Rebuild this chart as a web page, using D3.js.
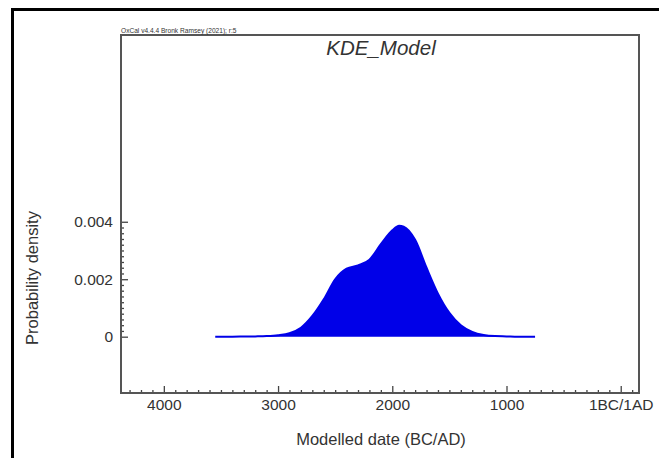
<!DOCTYPE html>
<html>
<head>
<meta charset="utf-8">
<script src="https://cdn.jsdelivr.net/npm/d3@7"></script>
<style>
  body { margin: 0; background: #fff; }
  text { font-family: "Liberation Sans", Arial, sans-serif; fill: #333; }
</style>
</head>
<body>
<div id="chart"></div>
<script>
// calendar years (negative = BC) and probability density
const years = [-3550, -3500, -3400, -3300, -3200, -3100, -3000, -2900, -2800, -2700,
    -2600, -2500, -2400, -2300, -2200, -2100, -2000, -1940, -1900, -1800, -1700,
    -1600, -1500, -1400, -1300, -1200, -1100, -1000, -900, -800, -750];
const density = [0, 0, 0, 0.000005, 0.00001, 0.00002, 0.00005, 0.00012, 0.00031, 0.00072,
    0.0013, 0.002, 0.00237, 0.00248, 0.00268, 0.00322, 0.0037, 0.00386, 0.00383, 0.00337, 0.0024,
    0.0015, 0.00083, 0.0004, 0.00017, 0.00006, 0.00002, 0.00001, 0, 0, 0];

const x_ticks = [-4000, -3000, -2000, -1000, 0];
const y_ticks = [0, 0.002, 0.004];

const chart_width = 659;
const chart_height = 458;
const frame = { left: 121, top: 35, right: 639, bottom: 393 };
const curve_color = '#0000e8';

const svg = d3.select('#chart')
    .append('svg')
    .attr('width', chart_width)
    .attr('height', chart_height);

// outer black border (cut off at the right and bottom)
svg.append('rect')
    .attr('x', 12.5)
    .attr('y', 9.5)
    .attr('width', 700)
    .attr('height', 500)
    .attr('fill', 'none')
    .attr('stroke', '#000')
    .attr('stroke-width', 3);

// scales
const x_scale = d3.scaleLinear()
    .domain([-4375, 160])
    .range([frame.left, frame.right]);

const y_scale = d3.scaleLinear()
    .domain([-0.00196, 0.0105])
    .range([frame.bottom, frame.top]);

const data = years.map((yr, i) => ({ year: yr, p: density[i] }));

// density curve
svg.append('path')
    .datum(data)
    .attr('d', d3.area()
        .x(d => x_scale(d.year))
        .y0(y_scale(0))
        .y1(d => y_scale(d.p))
        .curve(d3.curveMonotoneX))
    .attr('fill', curve_color);

svg.append('path')
    .datum(data)
    .attr('d', d3.line()
        .x(d => x_scale(d.year))
        .y(d => y_scale(d.p))
        .curve(d3.curveMonotoneX))
    .attr('fill', 'none')
    .attr('stroke', curve_color)
    .attr('stroke-width', 2);

// x axis, ticks pointing inward
const x_minor = d3.range(-4300, 200, 100).filter(v => v % 1000 !== 0);

svg.append('g')
    .attr('transform', `translate(0,${frame.bottom})`)
    .call(d3.axisBottom(x_scale).tickValues(x_minor).tickSize(-3).tickFormat(''))
    .call(g => g.select('.domain').remove());

svg.append('g')
    .attr('transform', `translate(0,${frame.bottom})`)
    .call(d3.axisBottom(x_scale)
        .tickValues(x_ticks)
        .tickSize(-7)
        .tickPadding(6)
        .tickFormat(d => d === 0 ? '1BC/1AD' : String(-d)))
    .call(g => g.select('.domain').remove())
    .call(g => g.selectAll('text').attr('font-size', 15.5).attr('font-family', null).attr('fill', '#333'));

// y axis, ticks pointing inward
const y_minor = d3.range(0, 0.00401, 0.0002).filter(v => Math.abs(v / 0.002 - Math.round(v / 0.002)) > 0.01);

svg.append('g')
    .attr('transform', `translate(${frame.left},0)`)
    .call(d3.axisLeft(y_scale).tickValues(y_minor).tickSize(-3).tickFormat(''))
    .call(g => g.select('.domain').remove());

svg.append('g')
    .attr('transform', `translate(${frame.left},0)`)
    .call(d3.axisLeft(y_scale)
        .tickValues(y_ticks)
        .tickSize(-7)
        .tickPadding(8)
        .tickFormat(d => d === 0 ? '0' : d3.format('.3f')(d)))
    .call(g => g.select('.domain').remove())
    .call(g => g.selectAll('text').attr('font-size', 15.5).attr('font-family', null).attr('fill', '#333'));

svg.selectAll('.tick line').attr('stroke', '#444').attr('stroke-width', 1.3);

// plot frame
svg.append('rect')
    .attr('x', frame.left)
    .attr('y', frame.top)
    .attr('width', frame.right - frame.left)
    .attr('height', frame.bottom - frame.top)
    .attr('fill', 'none')
    .attr('stroke', '#555')
    .attr('stroke-width', 2);

// texts
svg.append('text')
    .attr('x', frame.left)
    .attr('y', 32.5)
    .attr('font-size', 6.6)
    .text('OxCal v4.4.4 Bronk Ramsey (2021); r:5');

svg.append('text')
    .attr('x', 381)
    .attr('y', 55)
    .attr('text-anchor', 'middle')
    .attr('font-size', 20.5)
    .attr('font-style', 'italic')
    .text('KDE_Model');

svg.append('text')
    .attr('x', 381)
    .attr('y', 445)
    .attr('text-anchor', 'middle')
    .attr('font-size', 16.5)
    .text('Modelled date (BC/AD)');

svg.append('text')
    .attr('transform', 'translate(38,278) rotate(-90)')
    .attr('text-anchor', 'middle')
    .attr('font-size', 16.5)
    .text('Probability density');
</script>
</body>
</html>
